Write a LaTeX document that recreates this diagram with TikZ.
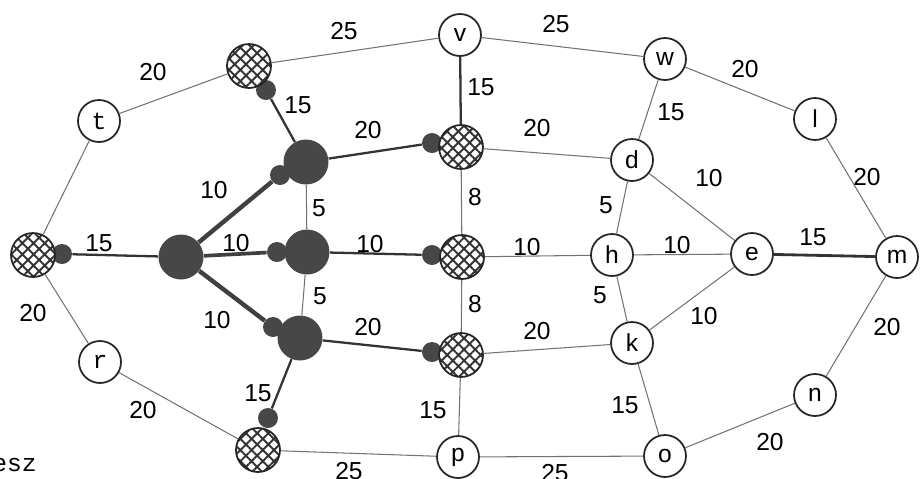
\documentclass[tikz,border=0pt]{standalone}
\usepackage{fontspec}
\setmainfont{Liberation Sans}
\newfontfamily\courierfont{Liberation Mono}
\usetikzlibrary{patterns.meta}

\tikzset{
  wnode/.style={circle, draw=black!85, line width=1pt, fill=white,
    minimum size=0.84cm, inner sep=0pt, font=\fontsize{14}{16}\selectfont},
  cnode/.style={wnode, font=\courierfont\fontsize{14}{16}\selectfont},
  hnode/.style={circle, draw=black!85, line width=1pt, minimum size=0.88cm,
    inner sep=0pt, preaction={fill=white},
    pattern={Hatch[angle=45,distance=4.5pt,line width=1.1pt]}, pattern color=black!80},
  dnode/.style={circle, fill=black!72, minimum size=0.9cm, inner sep=0pt},
  dotnode/.style={circle, fill=black!72, minimum size=0.4cm, inner sep=0pt},
  thinedge/.style={draw=black!55, line width=0.6pt},
  midedge/.style={draw=black!80, line width=1.3pt},
  heavyedge/.style={draw=black!75, line width=2.5pt},
  elab/.style={font=\fontsize{14}{16}\selectfont, inner sep=1pt},
}

\begin{document}
\begin{tikzpicture}[x=0.02cm, y=-0.02cm]
\useasboundingbox (0,0) rectangle (921,478);

% small dots, behind their circles
\node[dotnode] (lhd) at (62,254) {};
\node[dotnode] (thd) at (266,90) {};
\node[dotnode] (Ud)  at (280,175) {};
\node[dotnode] (Md)  at (277,252) {};
\node[dotnode] (Dd)  at (273,327) {};
\node[dotnode] (bhd) at (268,418) {};
\node[dotnode] (hud) at (432,143) {};
\node[dotnode] (hmd) at (432,255) {};
\node[dotnode] (hld) at (432,352) {};

% dark nodes
\node[dnode] (L) at (181,257) {};
\node[dnode] (U) at (306,162) {};
\node[dnode] (M) at (307,252) {};
\node[dnode] (D) at (300,338) {};

% hatched nodes
\node[hnode] (lh) at (33,255) {};
\node[hnode] (th) at (249,66) {};
\node[hnode] (bh) at (258,450) {};
\node[hnode] (hu) at (461,147) {};
\node[hnode] (hm) at (462,257) {};
\node[hnode] (hl) at (461,355) {};

% letter nodes
\node[cnode] (t) at (99,121) {t};
\node[cnode] (r) at (100,362) {r};
\node[wnode] (v) at (460,35) {v};
\node[cnode] (p) at (458,457) {p};
\node[wnode] (w) at (665,59) {w};
\node[wnode] (d) at (632,160) {d};
\node[cnode] (h) at (612,255) {h};
\node[wnode] (k) at (632,343) {k};
\node[wnode] (o) at (665,456) {o};
\node[wnode] (l) at (815,119) {l};
\node[wnode] (e) at (752,254) {e};
\node[wnode] (m) at (897,257) {m};
\node[wnode] (n) at (815,395) {n};

% thin connectors
\foreach \a/\b in {t/lh,t/th,th/v,v/w,w/l,w/d,l/m,d/hu,d/h,d/e,h/hm,h/e,h/k,
  e/k,k/hl,k/o,m/n,n/o,o/p,p/hl,p/bh,bh/r,r/lh,U/M,M/D,hu/hm,hm/hl}
  \draw[thinedge] (\a) -- (\b);

% dark connectors
\foreach \a/\b in {lhd/L,thd/U,U/hud,M/hmd,D/hld,D/bhd,v/hu}
  \draw[midedge] (\a) -- (\b);
\draw[heavyedge] (L) -- (Ud);
\draw[heavyedge, line width=2.1pt] (L) -- (Md);
\draw[heavyedge] (L) -- (Dd);
\draw[midedge, line width=1.6pt] (e) -- (m);

% weights
\foreach \nm/\px/\py/\txt in {a/153/72/20, b/344/31/25, c/298/105/15,
  f/214/190/10, g/319/208/5, i/368/130/20, j/481/87/15, q/556/24/25,
  s/537/128/20, u/475/197/8, x/606/205/5, y/671/112/15, z/745/69/20,
  aa/867/177/20, ab/709/178/10, ac/99/243/15, ad/236/243/10,
  ae/370/244/10, af/527/247/10, ag/320/296/5, ah/475/304/8, ai/600/295/5,
  aj/217/320/10, ak/368/327/20, al/537/331/20, am/677/245/10,
  an/813/237/15, ao/704/316/10, ap/887/327/20, aq/625/405/15,
  ar/770/442/20, as/33/313/20, at/143/410/20, au/258/393/15,
  av/433/410/15, aw/349/471/25, ax/555/473/25}
  \node[elab] (lab\nm) at (\px,\py) {\txt};

\node[anchor=east, inner sep=0pt, font=\courierfont\fontsize{14}{16}\selectfont]
  (esz) at (37,465) {esz};

\end{tikzpicture}
\end{document}
